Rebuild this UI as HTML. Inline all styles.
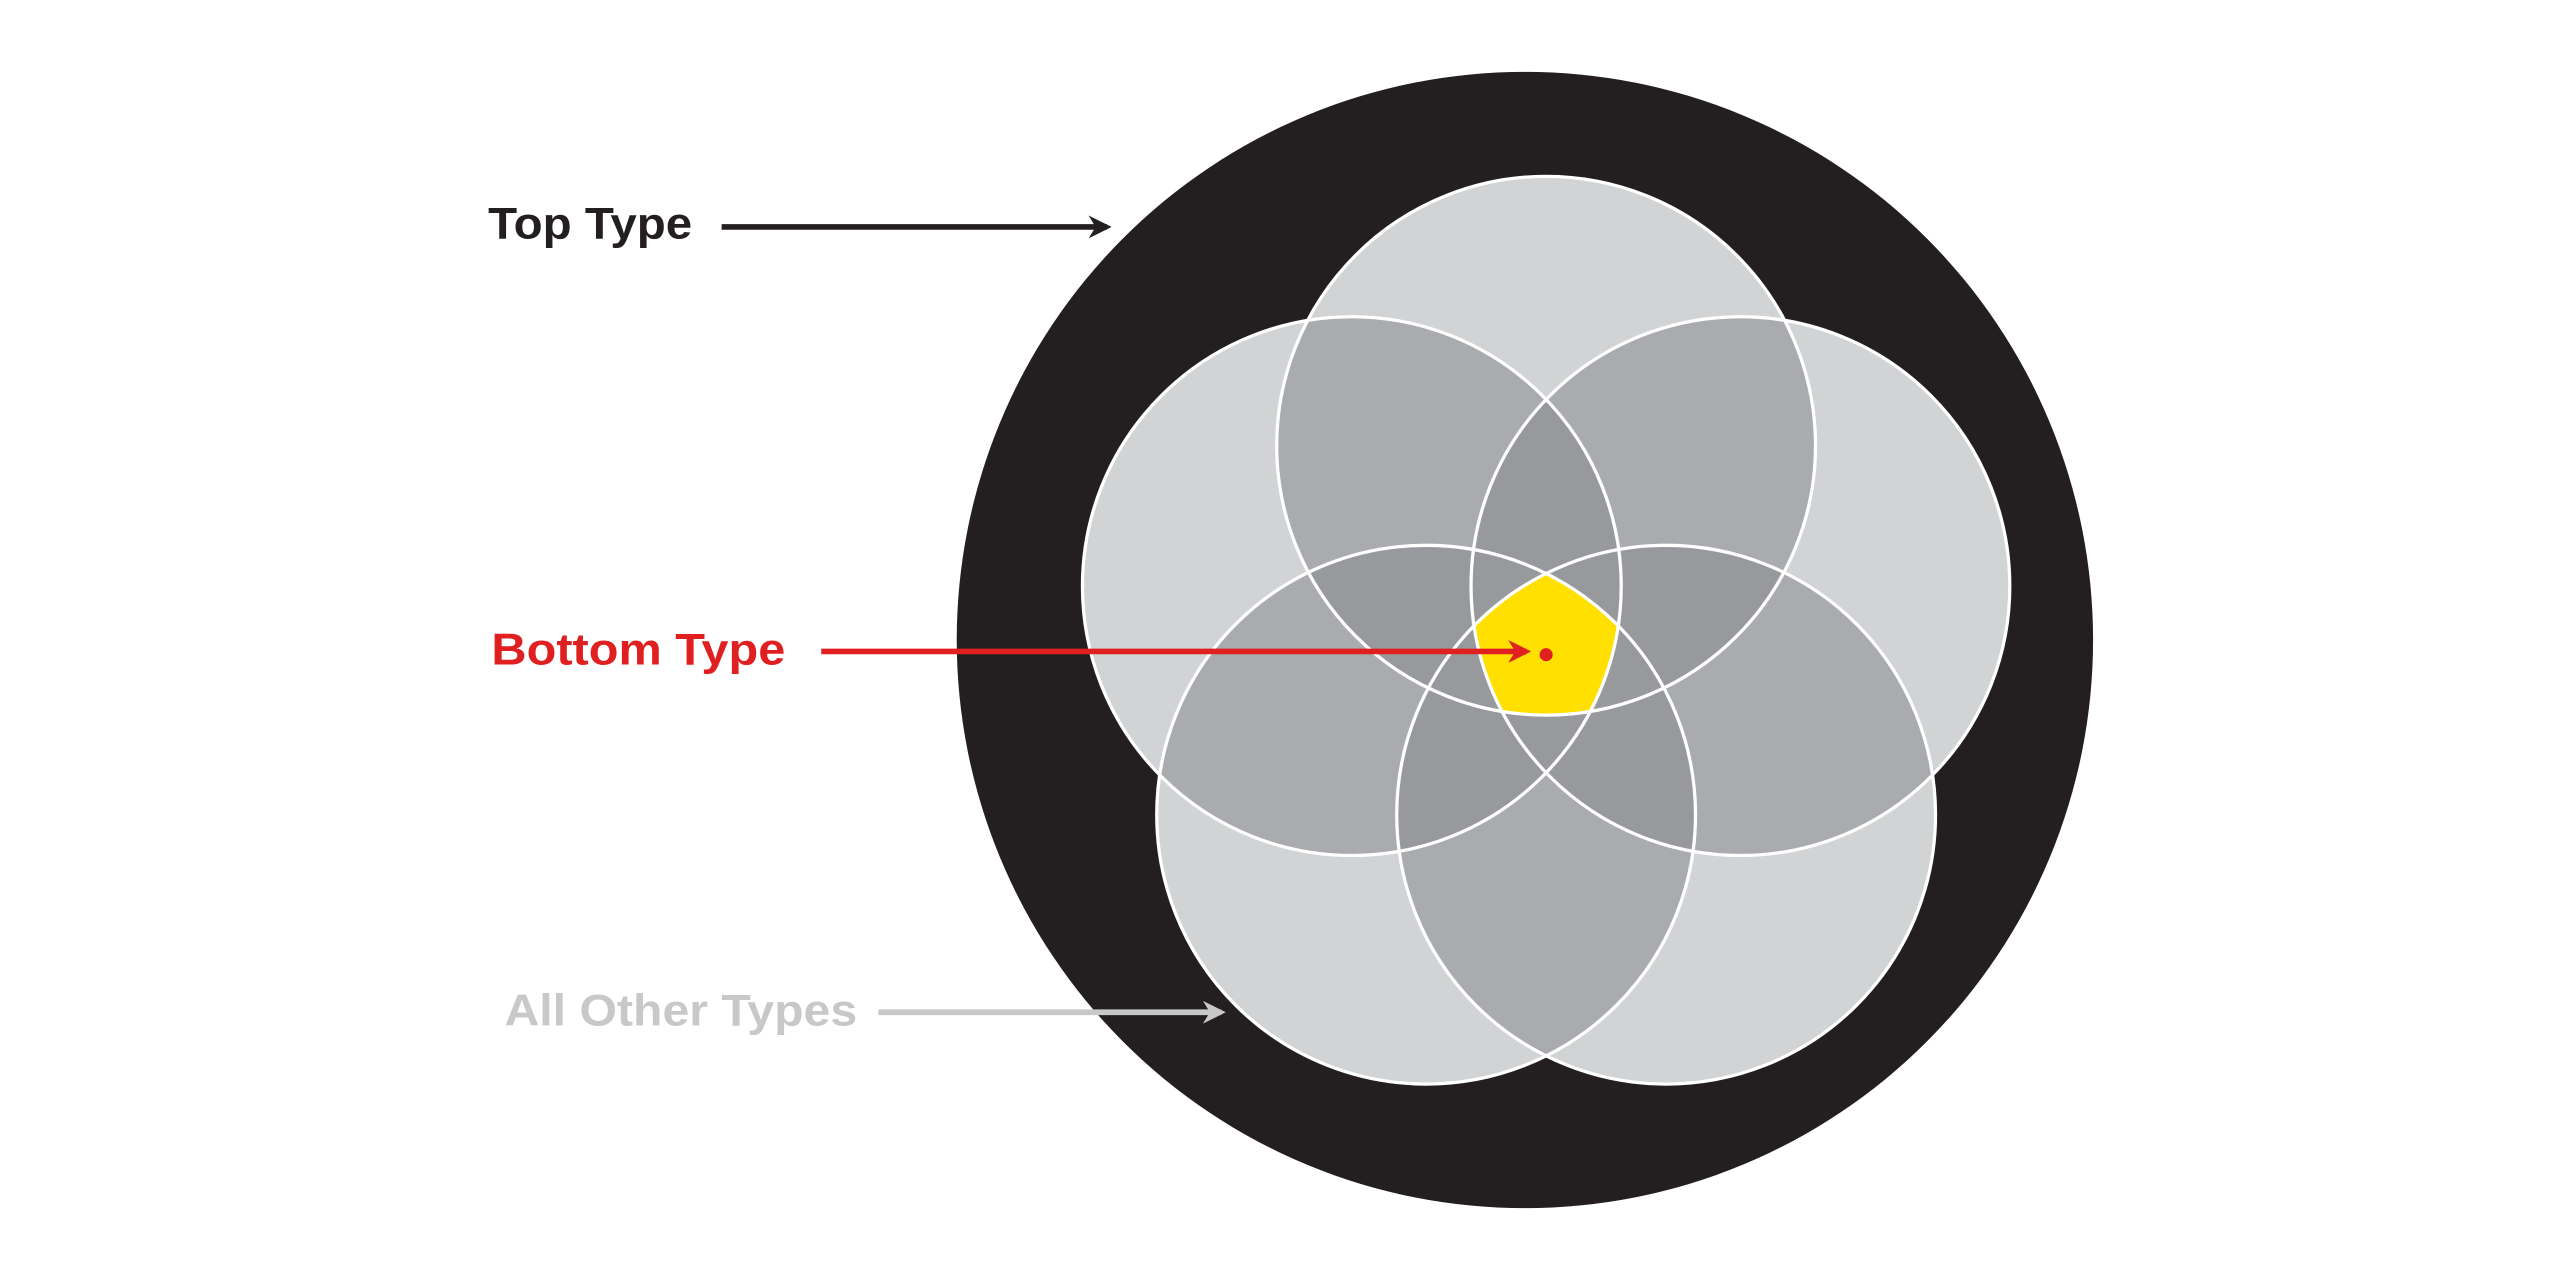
<!DOCTYPE html>
<html><head><meta charset="utf-8"><style>html,body{margin:0;padding:0;background:#fff}svg{display:block}</style></head>
<body>
<svg width="2560" height="1280" viewBox="0 0 1568 784" xmlns="http://www.w3.org/2000/svg">
<defs>
<clipPath id="c0"><circle cx="947" cy="273" r="165"/></clipPath>
<clipPath id="c1"><circle cx="1066" cy="359" r="165"/></clipPath>
<clipPath id="c2"><circle cx="1020.5" cy="499" r="165"/></clipPath>
<clipPath id="c3"><circle cx="873.5" cy="499" r="165"/></clipPath>
<clipPath id="c4"><circle cx="828" cy="359" r="165"/></clipPath>
<marker id="ab" viewBox="0 0 10 10" refX="8" refY="5" markerWidth="4" markerHeight="4" orient="auto"><path d="M0,0 L10,5 L0,10 L3,5 Z" fill="#231f20"/></marker>
<marker id="ar" viewBox="0 0 10 10" refX="8" refY="5" markerWidth="4" markerHeight="4" orient="auto"><path d="M0,0 L10,5 L0,10 L3,5 Z" fill="#e02020"/></marker>
<marker id="ag" viewBox="0 0 10 10" refX="8" refY="5" markerWidth="4" markerHeight="4" orient="auto"><path d="M0,0 L10,5 L0,10 L3,5 Z" fill="#c8c8c8"/></marker>
</defs>
<circle cx="934" cy="392" r="348" fill="#231f20"/>
<g fill="#d1d3d4">
<circle cx="947" cy="273" r="165"/><circle cx="1066" cy="359" r="165"/><circle cx="1020.5" cy="499" r="165"/><circle cx="873.5" cy="499" r="165"/><circle cx="828" cy="359" r="165"/>
</g>
<g fill="#a9abae">
<g clip-path="url(#c0)"><circle cx="1066" cy="359" r="165"/><circle cx="1020.5" cy="499" r="165"/><circle cx="873.5" cy="499" r="165"/><circle cx="828" cy="359" r="165"/></g>
<g clip-path="url(#c1)"><circle cx="1020.5" cy="499" r="165"/><circle cx="873.5" cy="499" r="165"/><circle cx="828" cy="359" r="165"/></g>
<g clip-path="url(#c2)"><circle cx="873.5" cy="499" r="165"/><circle cx="828" cy="359" r="165"/></g>
<g clip-path="url(#c3)"><circle cx="828" cy="359" r="165"/></g>
</g>
<g fill="#98999c">
<g clip-path="url(#c0)"><g clip-path="url(#c1)"><circle cx="1020.5" cy="499" r="165"/><circle cx="873.5" cy="499" r="165"/><circle cx="828" cy="359" r="165"/></g></g>
<g clip-path="url(#c0)"><g clip-path="url(#c2)"><circle cx="873.5" cy="499" r="165"/><circle cx="828" cy="359" r="165"/></g></g>
<g clip-path="url(#c0)"><g clip-path="url(#c3)"><circle cx="828" cy="359" r="165"/></g></g>
<g clip-path="url(#c1)"><g clip-path="url(#c2)"><circle cx="873.5" cy="499" r="165"/><circle cx="828" cy="359" r="165"/></g></g>
<g clip-path="url(#c1)"><g clip-path="url(#c3)"><circle cx="828" cy="359" r="165"/></g></g>
<g clip-path="url(#c2)"><g clip-path="url(#c3)"><circle cx="828" cy="359" r="165"/></g></g>
</g>
<g clip-path="url(#c0)"><g clip-path="url(#c1)"><g clip-path="url(#c2)"><g clip-path="url(#c3)"><circle cx="828" cy="359" r="165" fill="#ffe000"/></g></g></g></g>
<g fill="none" stroke="#fff" stroke-width="2">
<circle cx="947" cy="273" r="165"/><circle cx="1066" cy="359" r="165"/><circle cx="1020.5" cy="499" r="165"/><circle cx="873.5" cy="499" r="165"/><circle cx="828" cy="359" r="165"/>
</g>
<circle cx="947" cy="401" r="4" fill="#e02020"/>
<g font-family="Liberation Sans, sans-serif" font-weight="bold" font-size="27" lengthAdjust="spacingAndGlyphs">
<text x="299" y="146" fill="#231f20" textLength="125" lengthAdjust="spacingAndGlyphs">Top Type</text>
<text x="301" y="407" fill="#e02020" textLength="180" lengthAdjust="spacingAndGlyphs">Bottom Type</text>
<text x="309" y="628" fill="#c8c8c8" textLength="216" lengthAdjust="spacingAndGlyphs">All Other Types</text>
</g>
<line x1="442" y1="139" x2="678" y2="139" stroke="#231f20" stroke-width="3.5" marker-end="url(#ab)"/>
<line x1="503" y1="399" x2="935" y2="399" stroke="#e02020" stroke-width="3.5" marker-end="url(#ar)"/>
<line x1="538" y1="620" x2="748" y2="620" stroke="#c8c8c8" stroke-width="3.5" marker-end="url(#ag)"/>
</svg>
</body></html>
